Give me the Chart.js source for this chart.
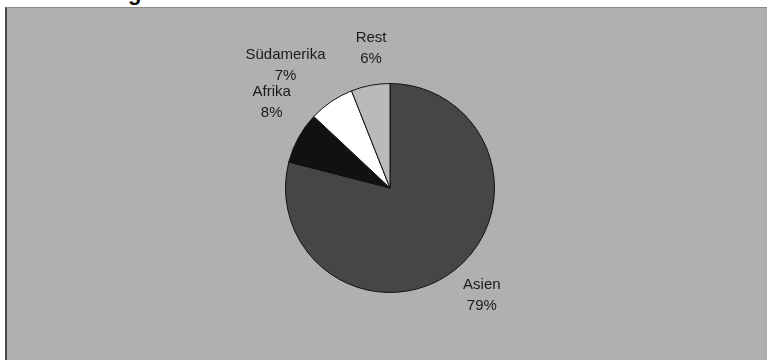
<!DOCTYPE html>
<html>
<head>
<meta charset="utf-8">
<script src="https://cdn.jsdelivr.net/npm/chart.js@4"></script>
<style>
  html, body { margin: 0; padding: 0; background: #fff; width: 767px; height: 360px; overflow: hidden; }
  .title-cut {
    position: absolute; left: 128px; top: -20px;
    font: bold 22px "Liberation Sans", Arial, sans-serif; color: #111;
  }
  .frame {
    position: absolute; left: 5px; top: 7px; width: 762px; height: 353px;
    background: #b0b0b0; border-left: 2px solid #4a4a4a; border-top: 1px solid #8a8a8a;
    box-sizing: border-box;
  }
  canvas { display: block; }
</style>
</head>
<body>
<div class="title-cut">g</div>
<div class="frame"><canvas id="pie"></canvas></div>
<script>
// Anteile nach Region
const regions = ['Asien', 'Afrika', 'Südamerika', 'Rest'];
const shares = [79, 8, 7, 6];
const sliceColors = ['#464646', '#111111', '#ffffff', '#bababa'];

// label placement: angle shift (deg) and distance in radius units
const labelPlacement = [
    { shift: -2.8, dist: 1.35 },
    { shift: 7.2, dist: 1.40 },
    { shift: -6.3, dist: 1.54 },
    { shift: 3.1, dist: 1.35 },
];

const pieLabels = {
    id: 'pieLabels',
    afterDatasetsDraw(chart) {
        const ctx = chart.ctx;
        const meta = chart.getDatasetMeta(0);
        ctx.save();
        ctx.font = '15px "Liberation Sans", Arial, sans-serif';
        ctx.fillStyle = '#1a1a1a';
        ctx.textAlign = 'center';
        ctx.textBaseline = 'middle';
        meta.data.forEach((arc, i) => {
            const p = labelPlacement[i];
            const mid = (arc.startAngle + arc.endAngle) / 2 + p.shift * Math.PI / 180;
            const r = arc.outerRadius * p.dist;
            const x = arc.x + Math.cos(mid) * r;
            const y = arc.y + Math.sin(mid) * r;
            ctx.fillText(regions[i], x, y - 10.5);
            ctx.fillText(shares[i] + '%', x, y + 10.5);
        });
        ctx.restore();
    }
};

const canvas = document.getElementById('pie');
canvas.width = 760;
canvas.height = 352;

new Chart(canvas, {
    type: 'pie',
    data: {
        labels: regions,
        datasets: [{
            data: shares,
            backgroundColor: sliceColors,
            borderColor: '#111',
            borderWidth: 1,
        }]
    },
    options: {
        responsive: false,
        animation: false,
        layout: { padding: { left: 278, right: 272, top: 75, bottom: 67 } },
        plugins: {
            legend: { display: false },
            tooltip: { enabled: false },
        }
    },
    plugins: [pieLabels]
});
</script>
</body>
</html>
